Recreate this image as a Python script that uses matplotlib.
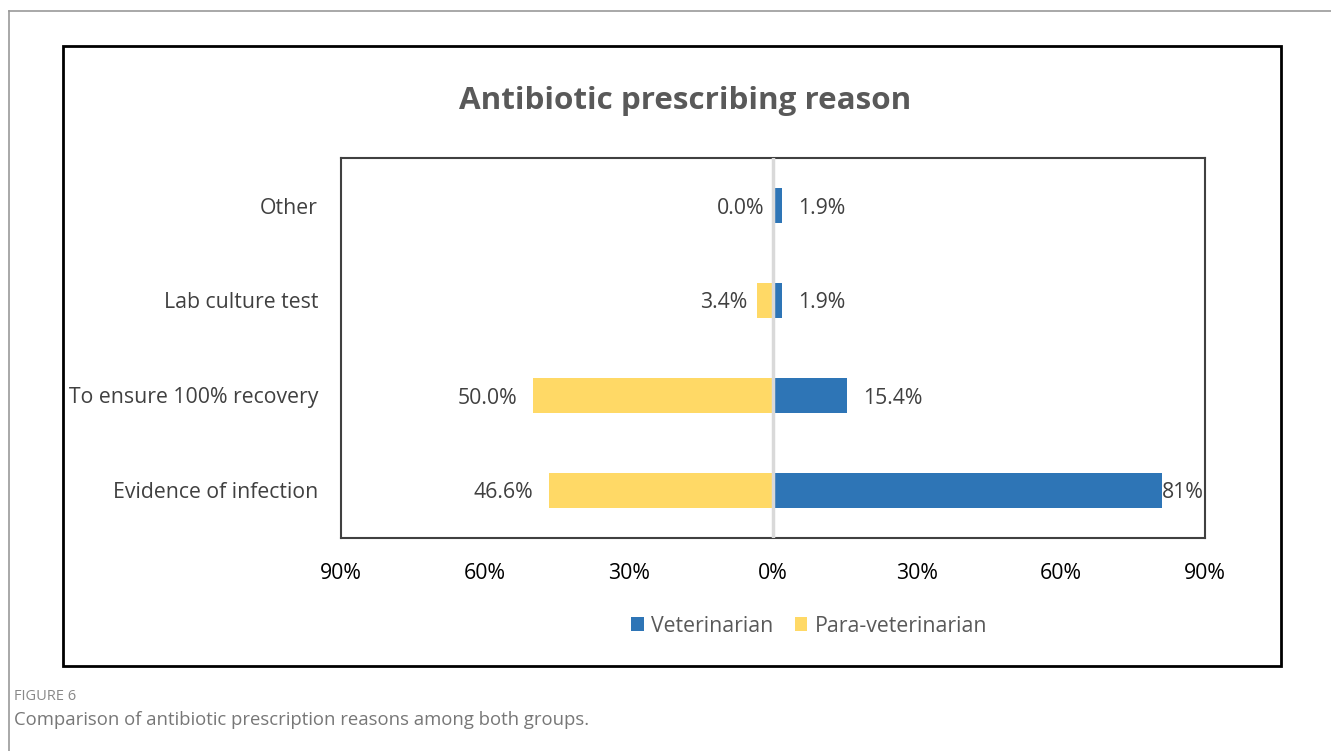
import matplotlib.pyplot as plt
from matplotlib.lines import Line2D
from matplotlib.patches import Rectangle

plt.rcParams['font.family'] = ['Open Sans', 'DejaVu Sans']

categories = ["Evidence of infection", "To ensure 100% recovery", "Lab culture test", "Other"]
veterinarian = [81.0, 15.4, 1.9, 1.9]
para_veterinarian = [46.6, 50.0, 3.4, 0.0]
vet_labels = ["81%", "15.4%", "1.9%", "1.9%"]
para_labels = ["46.6%", "50.0%", "3.4%", "0.0%"]
ticks = [-90, -60, -30, 0, 30, 60, 90]
tick_labels = ["90%", "60%", "30%", "0%", "30%", "60%", "90%"]

W, H = 1331, 751
fig = plt.figure(figsize=(W / 100, H / 100), dpi=100)

# page border lines (top and left)
fig.add_artist(Line2D([9 / W, 1], [1 - 11 / H, 1 - 11 / H], color="#999999", lw=1.2))
fig.add_artist(Line2D([9 / W, 9 / W], [0, 1 - 11 / H], color="#999999", lw=1.2))
# chart frame
fig.add_artist(Rectangle((63 / W, 1 - 666 / H), (1281 - 63) / W, (666 - 46) / H,
                         fill=False, edgecolor="black", lw=2))

ax = fig.add_axes([341 / W, 1 - 538 / H, (1205 - 341) / W, (538 - 158) / H])
y = range(len(categories))
ax.barh(y, veterinarian, height=0.36, color="#2e75b6", label="Veterinarian")
ax.barh(y, [-v for v in para_veterinarian], height=0.36, color="#ffd966", label="Para-veterinarian")
ax.axvline(0, color="#d9d9d9", lw=2.5, zorder=3)

fs = 15.3
for i in y:
    v = veterinarian[i]
    ax.text(v + (0.1 if v > 80 else 3.4), i, vet_labels[i], va="center_baseline", ha="left",
            fontsize=fs, color="#404040")
    p = para_veterinarian[i]
    ax.text(-p - (3.3 if p > 5 else 1.9), i, para_labels[i], va="center_baseline", ha="right",
            fontsize=fs, color="#404040")

ax.set_xlim(-90, 90)
ax.set_ylim(-0.5, len(categories) - 0.5)
ax.set_yticks(list(y))
ax.set_yticklabels(categories, fontsize=fs, color="#404040")
ax.set_xticks(ticks)
ax.set_xticklabels(tick_labels, fontsize=fs, color="#000000")
ax.tick_params(axis="both", length=0)
ax.tick_params(axis="x", pad=18)
ax.tick_params(axis="y", pad=16.5)
for lab in ax.get_yticklabels():
    lab.set_verticalalignment("center_baseline")
for s in ax.spines.values():
    s.set_color("#404040")
    s.set_linewidth(1.5)

fig.text(685 / W, 1 - 101 / H, "Antibiotic prescribing reason", ha="center", va="center",
         fontsize=22.6, fontweight="bold", color="#595959")

fig.legend(loc="center", bbox_to_anchor=(809 / W, 1 - 626 / H), ncol=2, frameon=False,
           fontsize=fs, handlelength=0.6, handleheight=0.6, handletextpad=0.35,
           columnspacing=1.0, labelcolor="#595959")

fig.text(14 / W, 1 - 697 / H, "FIGURE 6", ha="left", va="center", fontsize=10.5,
         color="#888888")
fig.text(14 / W, 1 - 720 / H, "Comparison of antibiotic prescription reasons among both groups.",
         ha="left", va="center", fontsize=13.3, color="#777777")

fig.savefig("out.png", dpi=100)
